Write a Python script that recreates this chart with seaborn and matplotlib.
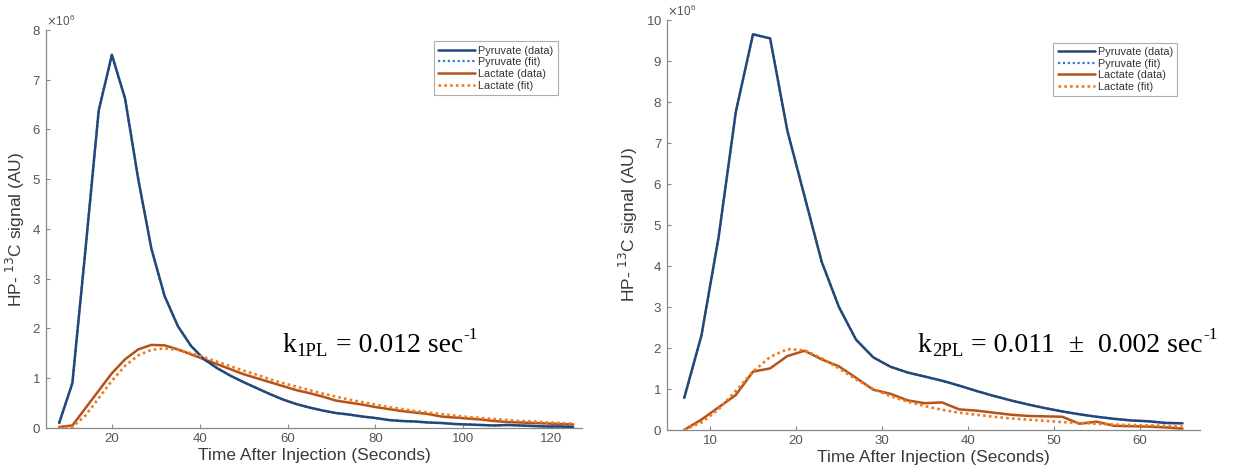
import numpy as np
import pandas as pd
import seaborn as sns
import matplotlib.pyplot as plt
from matplotlib.ticker import ScalarFormatter

# left panel, sampled every 3 s (values in units of 1e6)
t1 = list(range(8, 126, 3))
pyr1 = [0.1, 0.9, 3.6, 6.38, 7.5, 6.62, 5.0, 3.6, 2.65, 2.05, 1.65, 1.38, 1.2, 1.05,
        0.92, 0.8, 0.68, 0.57, 0.48, 0.41, 0.35, 0.30, 0.27, 0.23, 0.2, 0.16, 0.14,
        0.13, 0.11, 0.1, 0.08, 0.07, 0.06, 0.05, 0.06, 0.05, 0.04, 0.03, 0.03, 0.02]
lac1 = [0.02, 0.05, 0.4, 0.75, 1.1, 1.38, 1.58, 1.67, 1.66, 1.58, 1.48, 1.38, 1.28,
        1.18, 1.08, 1.0, 0.92, 0.84, 0.76, 0.7, 0.63, 0.55, 0.51, 0.47, 0.42, 0.38,
        0.34, 0.31, 0.28, 0.23, 0.21, 0.19, 0.17, 0.14, 0.12, 0.11, 0.1, 0.09, 0.08, 0.07]
lacfit1 = [0.0, 0.02, 0.25, 0.6, 0.95, 1.25, 1.46, 1.57, 1.6, 1.57, 1.5, 1.42, 1.33,
           1.24, 1.15, 1.07, 0.98, 0.9, 0.83, 0.76, 0.69, 0.63, 0.57, 0.52, 0.47, 0.42,
           0.38, 0.34, 0.31, 0.28, 0.25, 0.22, 0.2, 0.18, 0.16, 0.14, 0.13, 0.11, 0.1, 0.09]

# right panel, sampled every 2 s
t2 = list(range(7, 66, 2))
pyr2 = [0.78, 2.3, 4.7, 7.75, 9.65, 9.55, 7.3, 5.7, 4.1, 3.0, 2.2, 1.77, 1.54, 1.4,
        1.3, 1.2, 1.08, 0.95, 0.83, 0.72, 0.62, 0.53, 0.45, 0.38, 0.32, 0.27, 0.23,
        0.21, 0.17, 0.16]
lac2 = [0.0, 0.25, 0.55, 0.85, 1.42, 1.5, 1.8, 1.93, 1.72, 1.55, 1.27, 0.98, 0.88,
        0.72, 0.65, 0.67, 0.5, 0.47, 0.42, 0.37, 0.34, 0.33, 0.32, 0.15, 0.2, 0.1,
        0.09, 0.08, 0.06, 0.03]
lacfit2 = [0.0, 0.18, 0.5, 0.95, 1.42, 1.78, 1.97, 1.94, 1.75, 1.5, 1.23, 1.0, 0.82,
           0.69, 0.58, 0.49, 0.42, 0.37, 0.32, 0.28, 0.25, 0.22, 0.19, 0.17, 0.15,
           0.13, 0.12, 0.11, 0.1, 0.08]

sns.set_style("ticks")
plt.rcParams['font.family'] = ['Liberation Sans', 'DejaVu Sans']

grey = '#555555'
c_pyr = '#24477a'
c_pyrfit = '#3a78c8'
c_lac = '#b3531b'
c_lacfit = '#f07a1c'

fig = plt.figure(figsize=(12.33, 4.75), dpi=100)
ax1 = fig.add_axes([0.0373, 0.099, 0.4347, 0.838])
ax2 = fig.add_axes([0.541, 0.095, 0.432, 0.863])


def panel(ax, t, pyr, lac, lacfit, xlim, ylim, yticks, xticks, anchor):
    scale = 1e6
    # the pyruvate fit sits under the data
    sns.lineplot(x=t, y=np.array(pyr) * scale, ax=ax, color=c_pyrfit, lw=1.6,
                 linestyle=(0, (1, 1.2)), label='Pyruvate (fit)', zorder=1)
    sns.lineplot(x=t, y=np.array(pyr) * scale, ax=ax, color=c_pyr, lw=1.8,
                 label='Pyruvate (data)', zorder=3)
    sns.lineplot(x=t, y=np.array(lac) * scale, ax=ax, color=c_lac, lw=1.8,
                 label='Lactate (data)', zorder=2)
    sns.lineplot(x=t, y=np.array(lacfit) * scale, ax=ax, color=c_lacfit, lw=1.9,
                 linestyle=(0, (1, 1.2)), label='Lactate (fit)', zorder=4)
    ax.set_xlim(*xlim)
    ax.set_ylim(ylim[0] * scale, ylim[1] * scale)
    ax.set_xticks(xticks)
    ax.set_yticks([v * scale for v in yticks])
    fmt = ScalarFormatter(useMathText=True)
    fmt.set_powerlimits((6, 6))
    ax.yaxis.set_major_formatter(fmt)
    ax.yaxis.get_offset_text().set_fontsize(8.5)
    ax.yaxis.get_offset_text().set_color(grey)
    sns.despine(ax=ax)
    for s in ['left', 'bottom']:
        ax.spines[s].set_color('#888888')
        ax.spines[s].set_linewidth(0.9)
    ax.tick_params(direction='in', length=3, colors='#888888', labelcolor=grey,
                   labelsize=9.5)
    ax.set_xlabel('Time After Injection (Seconds)', fontsize=12.5, color='#3a3a3a',
                  labelpad=2)
    ax.set_ylabel('HP- $^{13}$C signal (AU)', fontsize=12.5, color='#3a3a3a',
                  labelpad=4)
    handles, labels = ax.get_legend_handles_labels()
    order = [1, 0, 2, 3]
    leg = ax.legend([handles[i] for i in order], [labels[i] for i in order],
                    loc='upper right', bbox_to_anchor=anchor, fontsize=7.8,
                    frameon=True, fancybox=False, edgecolor='#999999',
                    handlelength=3.4, borderpad=0.4, labelspacing=0.15,
                    handletextpad=0.3)
    leg.get_frame().set_linewidth(0.8)
    for txt in leg.get_texts():
        txt.set_color('#333333')


def rate_label(x, y, sub, rest):
    # k, subscript, value, superscript "-1" laid out one after another
    serif = 'Liberation Serif'
    renderer = fig.canvas.get_renderer()
    inv = fig.transFigure.inverted()
    pieces = [('k', 20, 0.0), (sub, 13.5, -0.008), (' ' + rest, 20, 0.0),
              ('-1', 12.5, 0.029)]
    cx = x
    for txt, size, dy in pieces:
        t = fig.text(cx, y + dy, txt, family=serif, fontsize=size, color='black',
                     va='baseline')
        bb = t.get_window_extent(renderer)
        cx = inv.transform((bb.x1, bb.y1))[0] + 0.0005


panel(ax1, t1, pyr1, lac1, lacfit1, (5, 127), (0, 8), range(0, 9),
      [20, 40, 60, 80, 100, 120], (0.965, 0.985))
panel(ax2, t2, pyr2, lac2, lacfit2, (5, 67), (0, 10), range(0, 11),
      [10, 20, 30, 40, 50, 60], (0.968, 0.958))

rate_label(0.229, 0.258, '1PL', '= 0.012 sec')
rate_label(0.744, 0.258, '2PL', '= 0.011  ±  0.002 sec')

fig.savefig('out.png', dpi=100)
